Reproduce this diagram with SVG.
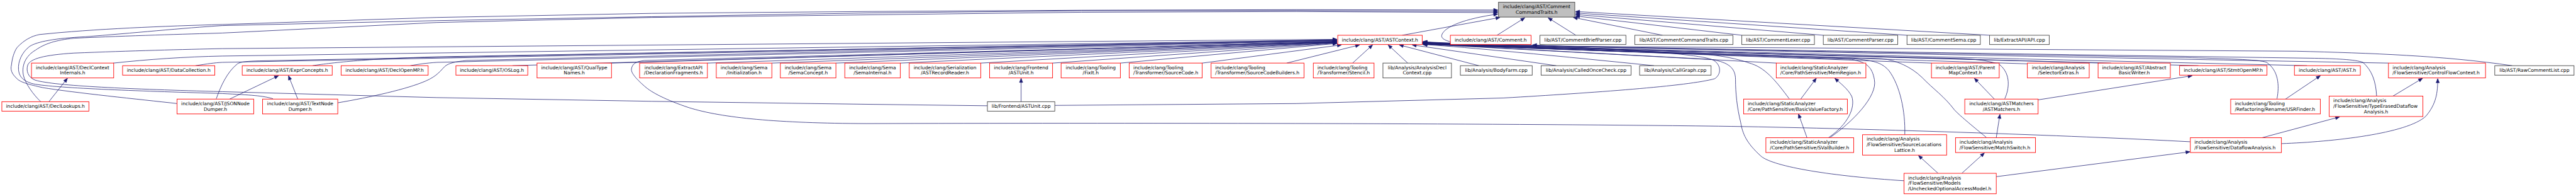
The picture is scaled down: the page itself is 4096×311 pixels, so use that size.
<svg xmlns="http://www.w3.org/2000/svg" width="4096" height="311" viewBox="0 0 4096 311">
<defs>
<style>
.r{fill:#fff;stroke:#ff0000;stroke-width:1.5}
.k{fill:#fff;stroke:#404040;stroke-width:1.5}
.g{fill:#bfbfbf;stroke:#404040;stroke-width:1.5}
text{font-family:"DejaVu Sans","Liberation Sans",sans-serif;font-size:12.9px;fill:#000}
.c{text-anchor:middle}
.e path{fill:none;stroke:#191970;stroke-width:1.3}
</style>
<marker id="a" markerUnits="userSpaceOnUse" markerWidth="11" markerHeight="10" viewBox="0 0 11 10" refX="11" refY="5" orient="auto" overflow="visible"><path d="M0,0.5L11,5L0,9.5z" fill="#191970" stroke="#191970" stroke-width="1"/></marker>
</defs>
<rect width="4096" height="311" fill="#fff"/>
<g transform="scale(0.5889)">
<g id="edges" class="e" marker-end="url(#a)">
<path d="M3786,95L4050,47"/>
<path d="M4042,95L4117,48"/>
<path d="M4255,95L4180,48"/>
<path d="M4489,95L4248,47"/>
<path d="M4703,95L4254,43"/>
<path d="M4923,95L4254,39"/>
<path d="M5149,95L4254,35"/>
<path d="M5372,95L4254,31"/>
<path d="M478,279C380,268 200,250 115,236C80,228 55,222 46,212C30,198 28,186 31,175C33,156 38,140 46,128C65,108 85,97 107,93C250,78 450,70 600,66L1180,47L1760,36L2340,31L2920,27.6L3500,26L4044,27"/>
<path d="M737,266C710,258 680,256 600,252C400,246 150,238 90,226C60,218 52,205 50,188C48,165 60,140 80,125C100,112 150,103 230,99C350,90 500,75 600,69L1180,55.6L1760,45L2340,35L2920,29L3500,28.5L4044,30.5"/>
<path d="M110,274C90,255 68,225 63,202C58,175 70,150 96,135C120,118 150,108 200,103C350,96 500,92 600,89L1180,60.6L1760,47L2340,40L2920,33L3500,31L4044,34"/>
<path d="M6783,177C6600,150 6400,143 6200,138L4100,124C3930,123 3888,112 3893,94C3900,72 3955,50 4044,38"/>
<path d="M2666,285L2340,281L1760,273L1180,263L600,247C350,240 150,232 95,216C75,208 70,190 75,175C82,158 120,148 200,143C350,137 500,133 600,131L3610,106"/>
<path d="M306,170C400,160 500,153 600,151L3610,108"/>
<path d="M528,177C560,172 580,169 600,168L3610,110"/>
<path d="M584,266C595,235 612,195 641,172C650,166 670,165 700,164L3610,107"/>
<path d="M844,177C900,168 1000,158 1180,153L3610,109"/>
<path d="M1108,177C1130,173 1150,170 1180,168L3610,111"/>
<path d="M912,277C1000,262 1100,240 1150,218C1180,205 1190,190 1200,180C1210,170 1230,166 1260,163L3610,108"/>
<path d="M1384,177L3610,112"/>
<path d="M1651,170L3610,112"/>
<path d="M5914,382C5600,365 5000,345 4640,340C4000,332 3000,331 2340,333C2100,332 1950,318 1860,290C1800,270 1760,250 1740,232C1715,210 1703,195 1705,185C1708,172 1715,166 1740,163L3610,113"/>
<path d="M1910,170L3610,113"/>
<path d="M2084,170L3610,114"/>
<path d="M2257,170L3610,114"/>
<path d="M2431,170L3610,115"/>
<path d="M2648,170L3610,115"/>
<path d="M2842,170L3610,116"/>
<path d="M3025,170L3610,117"/>
<path d="M3246,170L3622,121"/>
<path d="M3474,170L3671,121"/>
<path d="M3652,170L3706,121"/>
<path d="M3801,170L3748,121"/>
<path d="M3993,177L3778,121"/>
<path d="M4202,177L3813,121"/>
<path d="M4466,177Q3960,126 3842,120"/>
<path d="M4796,170Q3960,125 3842,119"/>
<path d="M4831,266C4800,225 4770,185 4730,172C4690,158 4650,150 4600,146Q3960,125 3842,119"/>
<path d="M4942,370C5000,330 5070,260 5061,215C5055,180 5040,168 5000,160Q3960,125 3842,118"/>
<path d="M5143,363C5145,300 5130,230 5100,190C5080,168 5060,163 5000,158Q3960,125 3842,118"/>
<path d="M5141,487C4950,475 4790,450 4755,421C4715,385 4705,360 4700,330C4690,290 4686,250 4686,215C4686,185 4670,168 4620,160Q3960,125 3842,117"/>
<path d="M5215,170Q3960,124 3842,117"/>
<path d="M5413,266C5425,240 5430,200 5400,175C5380,165 5340,160 5300,158Q3960,124 3842,116"/>
<path d="M5363,370C5320,335 5290,310 5277,296C5250,260 5220,240 5190,209C5160,180 5120,162 5080,158Q3960,124 3842,116"/>
<path d="M5474,172Q3960,124 3842,115"/>
<path d="M5700,170Q3960,124 3842,115"/>
<path d="M5936,177Q3960,124 3842,114"/>
<path d="M6229,177Q3960,124 3842,114"/>
<path d="M6148,266C6155,230 6152,190 6120,168C6100,160 6000,158 5900,155Q3960,124 3842,113"/>
<path d="M6417,259C6415,220 6405,190 6380,168C6360,160 6300,158 6250,157Q3960,124 3842,113"/>
<path d="M6449,170Q3960,124 3842,112"/>
<path d="M2848,284L3500,279L4060,264C4300,250 4560,232 4630,212C4648,200 4648,175 4626,162C4600,150 4500,140 4300,130L4138,121"/>
<path d="M2757,274L2757,211"/>
<path d="M132,274L182,211"/>
<path d="M620,267L752,204"/>
<path d="M804,267L779,204"/>
<path d="M4879,371L4856,307"/>
<path d="M4937,371C4990,335 5010,290 5000,260C4990,240 4970,225 4954,211"/>
<path d="M4862,267L4904,211"/>
<path d="M5233,467L5180,419"/>
<path d="M5297,467L5358,412"/>
<path d="M5390,476L5913,409"/>
<path d="M5390,371L5400,308"/>
<path d="M5385,267L5331,211"/>
<path d="M5503,269L5919,204"/>
<path d="M6171,267L6265,204"/>
<path d="M6108,371L6317,315"/>
<path d="M6461,259L6541,211"/>
<path d="M6160,387C6300,382 6500,360 6550,313C6578,280 6582,250 6582,212"/>
</g>
<g id="n_gray"><rect class="g" x="4046" y="6" width="206" height="40"/><text class="c"><tspan x="4149" y="22.3">include/clang/AST/Comment</tspan><tspan x="4149" y="37.1">CommandTraits.h</tspan></text></g>
<g id="n_astcontext"><rect class="r" x="3612" y="95" width="228" height="25"/><text class="c" x="3726" y="111.5">include/clang/AST/ASTContext.h</text></g>
<g id="n_comment"><rect class="r" x="3916" y="95" width="218" height="25"/><text class="c" x="4025" y="111.5">include/clang/AST/Comment.h</text></g>
<g id="n_briefparser"><rect class="k" x="4158" y="95" width="232" height="25"/><text class="c" x="4274" y="111.5">lib/AST/CommentBriefParser.cpp</text></g>
<g id="n_cmdtraitscpp"><rect class="k" x="4414" y="95" width="265" height="25"/><text class="c" x="4546.5" y="111.5">lib/AST/CommentCommandTraits.cpp</text></g>
<g id="n_lexer"><rect class="k" x="4703" y="95" width="196" height="25"/><text class="c" x="4801" y="111.5">lib/AST/CommentLexer.cpp</text></g>
<g id="n_parser"><rect class="k" x="4923" y="95" width="201" height="25"/><text class="c" x="5023.5" y="111.5">lib/AST/CommentParser.cpp</text></g>
<g id="n_sema"><rect class="k" x="5149" y="95" width="198" height="25"/><text class="c" x="5248" y="111.5">lib/AST/CommentSema.cpp</text></g>
<g id="n_api"><rect class="k" x="5372" y="95" width="161" height="25"/><text class="c" x="5452.5" y="111.5">lib/ExtractAPI/API.cpp</text></g>
<g id="n_dci"><rect class="r" x="85" y="170" width="222" height="40"/><text class="c"><tspan x="196" y="186.3">include/clang/AST/DeclContext</tspan><tspan x="196" y="201.1">Internals.h</tspan></text></g>
<g id="n_datacoll"><rect class="r" x="331" y="177" width="249" height="25.5"/><text class="c" x="455.5" y="193.2">include/clang/AST/DataCollection.h</text></g>
<g id="n_exprconcepts"><rect class="r" x="654" y="177" width="243" height="25.5"/><text class="c" x="775.5" y="193.2">include/clang/AST/ExprConcepts.h</text></g>
<g id="n_declopenmp"><rect class="r" x="921" y="177" width="235" height="25.5"/><text class="c" x="1038.5" y="193.2">include/clang/AST/DeclOpenMP.h</text></g>
<g id="n_oslog"><rect class="r" x="1231" y="177" width="194" height="25.5"/><text class="c" x="1328" y="193.2">include/clang/AST/OSLog.h</text></g>
<g id="n_qualtypenames"><rect class="r" x="1450" y="170" width="201" height="40"/><text class="c"><tspan x="1550.5" y="186.3">include/clang/AST/QualType</tspan><tspan x="1550.5" y="201.1">Names.h</tspan></text></g>
<g id="n_declfrag"><rect class="r" x="1727" y="170" width="183" height="40"/><text class="c"><tspan x="1818.5" y="186.3">include/clang/ExtractAPI</tspan><tspan x="1818.5" y="201.1">/DeclarationFragments.h</tspan></text></g>
<g id="n_init"><rect class="r" x="1934" y="170" width="150" height="40"/><text class="c"><tspan x="2009" y="186.3">include/clang/Sema</tspan><tspan x="2009" y="201.1">/Initialization.h</tspan></text></g>
<g id="n_semaconcept"><rect class="r" x="2107" y="170" width="150" height="40"/><text class="c"><tspan x="2182" y="186.3">include/clang/Sema</tspan><tspan x="2182" y="201.1">/SemaConcept.h</tspan></text></g>
<g id="n_semainternal"><rect class="r" x="2281" y="170" width="150" height="40"/><text class="c"><tspan x="2356" y="186.3">include/clang/Sema</tspan><tspan x="2356" y="201.1">/SemaInternal.h</tspan></text></g>
<g id="n_recordreader"><rect class="r" x="2455" y="170" width="193" height="40"/><text class="c"><tspan x="2551.5" y="186.3">include/clang/Serialization</tspan><tspan x="2551.5" y="201.1">/ASTRecordReader.h</tspan></text></g>
<g id="n_astunith"><rect class="r" x="2672" y="170" width="170" height="40"/><text class="c"><tspan x="2757" y="186.3">include/clang/Frontend</tspan><tspan x="2757" y="201.1">/ASTUnit.h</tspan></text></g>
<g id="n_fixit"><rect class="r" x="2865" y="170" width="160" height="40"/><text class="c"><tspan x="2945" y="186.3">include/clang/Tooling</tspan><tspan x="2945" y="201.1">/FixIt.h</tspan></text></g>
<g id="n_sourcecode"><rect class="r" x="3049" y="170" width="197" height="40"/><text><tspan x="3060" y="186.3">include/clang/Tooling</tspan><tspan x="3060" y="201.1">/Transformer/SourceCode.h</tspan></text></g>
<g id="n_scbuilders"><rect class="r" x="3270" y="170" width="251" height="40"/><text><tspan x="3281" y="186.3">include/clang/Tooling</tspan><tspan x="3281" y="201.1">/Transformer/SourceCodeBuilders.h</tspan></text></g>
<g id="n_stencil"><rect class="r" x="3546" y="170" width="164" height="40"/><text><tspan x="3557" y="186.3">include/clang/Tooling</tspan><tspan x="3557" y="201.1">/Transformer/Stencil.h</tspan></text></g>
<g id="n_adc"><rect class="k" x="3734" y="170" width="185" height="40"/><text class="c"><tspan x="3826.5" y="186.3">lib/Analysis/AnalysisDecl</tspan><tspan x="3826.5" y="201.1">Context.cpp</tspan></text></g>
<g id="n_bodyfarm"><rect class="k" x="3943" y="177" width="194" height="25.5"/><text class="c" x="4040" y="193.2">lib/Analysis/BodyFarm.cpp</text></g>
<g id="n_calledonce"><rect class="k" x="4161" y="177" width="243" height="25.5"/><text class="c" x="4282.5" y="193.2">lib/Analysis/CalledOnceCheck.cpp</text></g>
<g id="n_callgraph"><rect class="k" x="4427" y="177" width="193" height="25.5"/><text class="c" x="4523.5" y="193.2">lib/Analysis/CallGraph.cpp</text></g>
<g id="n_memregion"><rect class="r" x="4796" y="170" width="242" height="40"/><text><tspan x="4807" y="186.3">include/clang/StaticAnalyzer</tspan><tspan x="4807" y="201.1">/Core/PathSensitive/MemRegion.h</tspan></text></g>
<g id="n_parentmap"><rect class="r" x="5215" y="170" width="183" height="40"/><text class="c"><tspan x="5306.5" y="186.3">include/clang/AST/Parent</tspan><tspan x="5306.5" y="201.1">MapContext.h</tspan></text></g>
<g id="n_selectorextras"><rect class="r" x="5474" y="170" width="167" height="40"/><text class="c"><tspan x="5557.5" y="186.3">include/clang/Analysis</tspan><tspan x="5557.5" y="201.1">/SelectorExtras.h</tspan></text></g>
<g id="n_abw"><rect class="r" x="5665" y="170" width="195" height="40"/><text class="c"><tspan x="5762.5" y="186.3">include/clang/AST/Abstract</tspan><tspan x="5762.5" y="201.1">BasicWriter.h</tspan></text></g>
<g id="n_stmtopenmp"><rect class="r" x="5885" y="177" width="236" height="25.5"/><text class="c" x="6003" y="193.2">include/clang/AST/StmtOpenMP.h</text></g>
<g id="n_ast"><rect class="r" x="6195" y="177" width="178" height="25.5"/><text class="c" x="6284" y="193.2">include/clang/AST/AST.h</text></g>
<g id="n_cfc"><rect class="r" x="6449" y="170" width="262" height="40"/><text><tspan x="6460" y="186.3">include/clang/Analysis</tspan><tspan x="6460" y="201.1">/FlowSensitive/ControlFlowContext.h</tspan></text></g>
<g id="n_rawcomment"><rect class="k" x="6736" y="177" width="214" height="25.5"/><text class="c" x="6843" y="193.2">lib/AST/RawCommentList.cpp</text></g>
<g id="n_decllookups"><rect class="r" x="5" y="274" width="235" height="25.5"/><text class="c" x="122.5" y="290.2">include/clang/AST/DeclLookups.h</text></g>
<g id="n_json"><rect class="r" x="478" y="267" width="207" height="40"/><text class="c"><tspan x="581.5" y="283.3">include/clang/AST/JSONNode</tspan><tspan x="581.5" y="298.1">Dumper.h</tspan></text></g>
<g id="n_textnode"><rect class="r" x="709" y="267" width="203" height="40"/><text class="c"><tspan x="810.5" y="283.3">include/clang/AST/TextNode</tspan><tspan x="810.5" y="298.1">Dumper.h</tspan></text></g>
<g id="n_astunitcpp"><rect class="k" x="2666" y="274" width="182" height="25.5"/><text class="c" x="2757" y="290.2">lib/Frontend/ASTUnit.cpp</text></g>
<g id="n_bvf"><rect class="r" x="4708" y="267" width="280" height="40"/><text><tspan x="4719" y="283.3">include/clang/StaticAnalyzer</tspan><tspan x="4719" y="298.1">/Core/PathSensitive/BasicValueFactory.h</tspan></text></g>
<g id="n_astmatchers"><rect class="r" x="5305" y="267" width="198" height="40"/><text class="c"><tspan x="5404" y="283.3">include/clang/ASTMatchers</tspan><tspan x="5404" y="298.1">/ASTMatchers.h</tspan></text></g>
<g id="n_usrfinder"><rect class="r" x="6023" y="267" width="242" height="40"/><text><tspan x="6034" y="283.3">include/clang/Tooling</tspan><tspan x="6034" y="298.1">/Refactoring/Rename/USRFinder.h</tspan></text></g>
<g id="n_typeerased"><rect class="r" x="6289" y="259" width="253" height="55"/><text><tspan x="6300" y="275.3">include/clang/Analysis</tspan><tspan x="6300" y="290.1">/FlowSensitive/TypeErasedDataflow</tspan><tspan x="6415.5" y="304.9" text-anchor="middle">Analysis.h</tspan></text></g>
<g id="n_svalbuilder"><rect class="r" x="4768" y="371" width="237" height="40"/><text><tspan x="4779" y="387.3">include/clang/StaticAnalyzer</tspan><tspan x="4779" y="402.1">/Core/PathSensitive/SValBuilder.h</tspan></text></g>
<g id="n_sll"><rect class="r" x="5029" y="363" width="227" height="55"/><text><tspan x="5040" y="379.3">include/clang/Analysis</tspan><tspan x="5040" y="394.1">/FlowSensitive/SourceLocations</tspan><tspan x="5142.5" y="408.9" text-anchor="middle">Lattice.h</tspan></text></g>
<g id="n_matchswitch"><rect class="r" x="5280" y="371" width="216" height="40"/><text><tspan x="5291" y="387.3">include/clang/Analysis</tspan><tspan x="5291" y="402.1">/FlowSensitive/MatchSwitch.h</tspan></text></g>
<g id="n_dataflow"><rect class="r" x="5914" y="371" width="246" height="40"/><text><tspan x="5925" y="387.3">include/clang/Analysis</tspan><tspan x="5925" y="402.1">/FlowSensitive/DataflowAnalysis.h</tspan></text></g>
<g id="n_unchecked"><rect class="r" x="5141" y="467" width="249" height="55"/><text><tspan x="5152" y="483.3">include/clang/Analysis</tspan><tspan x="5152" y="498.1">/FlowSensitive/Models</tspan><tspan x="5152" y="512.9">/UncheckedOptionalAccessModel.h</tspan></text></g>
</g>
</svg>
